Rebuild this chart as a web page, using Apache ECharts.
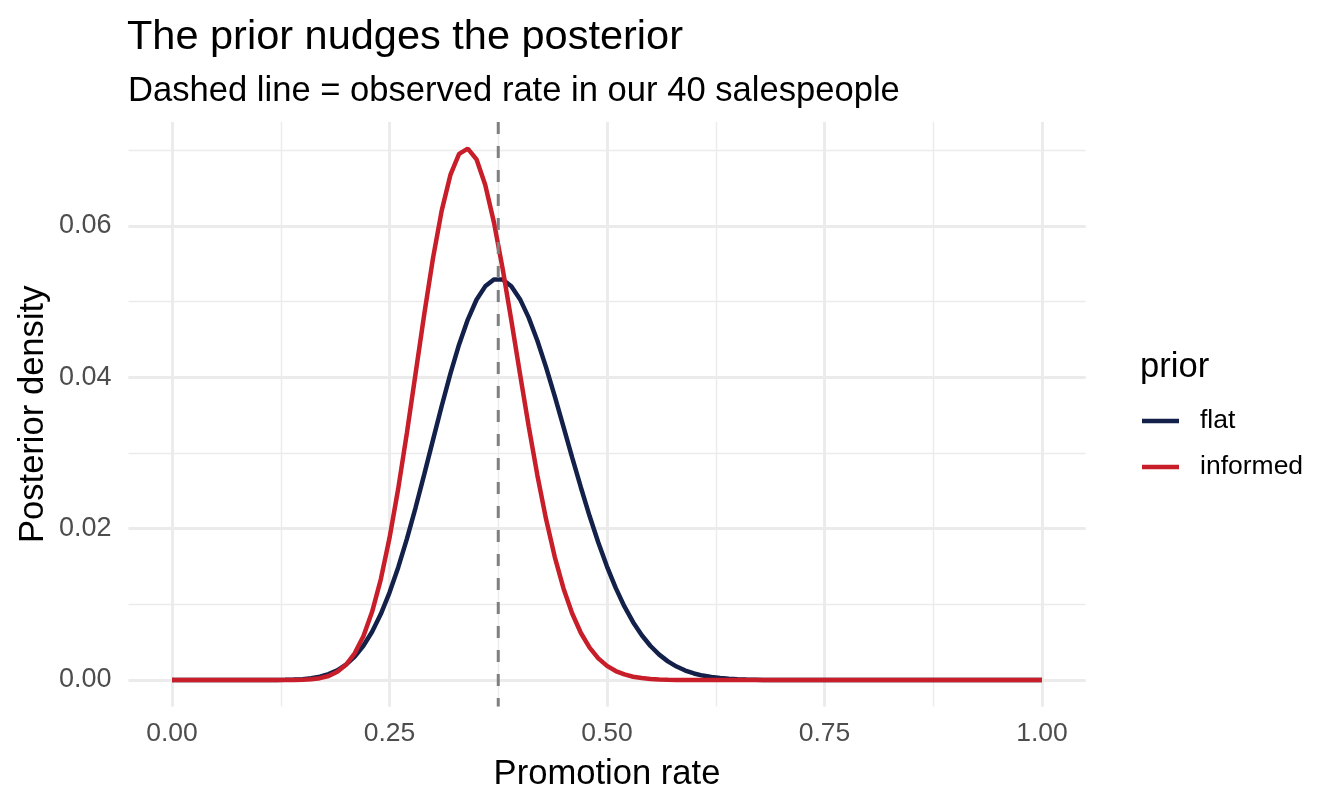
<!DOCTYPE html>
<html>
<head>
<meta charset="utf-8">
<title>The prior nudges the posterior</title>
<script src="https://cdn.jsdelivr.net/npm/echarts@6/dist/echarts.min.js"></script>
<style>
  html, body { margin: 0; padding: 0; background: #fff; }
  #main { width: 1344px; height: 806px; }
</style>
</head>
<body>
<div id="main"></div>
<script>
// grid of promotion rates (0 to 1 by 0.01)
var rate = [
  0.00, 0.01, 0.02, 0.03, 0.04, 0.05, 0.06, 0.07, 0.08, 0.09,
  0.10, 0.11, 0.12, 0.13, 0.14, 0.15, 0.16, 0.17, 0.18, 0.19,
  0.20, 0.21, 0.22, 0.23, 0.24, 0.25, 0.26, 0.27, 0.28, 0.29,
  0.30, 0.31, 0.32, 0.33, 0.34, 0.35, 0.36, 0.37, 0.38, 0.39,
  0.40, 0.41, 0.42, 0.43, 0.44, 0.45, 0.46, 0.47, 0.48, 0.49,
  0.50, 0.51, 0.52, 0.53, 0.54, 0.55, 0.56, 0.57, 0.58, 0.59,
  0.60, 0.61, 0.62, 0.63, 0.64, 0.65, 0.66, 0.67, 0.68, 0.69,
  0.70, 0.71, 0.72, 0.73, 0.74, 0.75, 0.76, 0.77, 0.78, 0.79,
  0.80, 0.81, 0.82, 0.83, 0.84, 0.85, 0.86, 0.87, 0.88, 0.89,
  0.90, 0.91, 0.92, 0.93, 0.94, 0.95, 0.96, 0.97, 0.98, 0.99,
  1.00
]

// posterior density, flat prior
var flat = [
  0, 0, 0, 0, 0, 0, 0, 0, 0, 0,
  0, 0, 0.00001, 0.00003, 0.00006, 0.00012, 0.00024, 0.00045, 0.00078, 0.00129,
  0.00204, 0.00310, 0.00453, 0.00639, 0.00872, 0.01156, 0.01488, 0.01866, 0.02280, 0.02721,
  0.03174, 0.03622, 0.04049, 0.04435, 0.04764, 0.05026, 0.05203, 0.05294, 0.05294, 0.05205,
  0.05034, 0.04790, 0.04484, 0.04132, 0.03748, 0.03346, 0.02940, 0.02545, 0.02167, 0.01818,
  0.01500, 0.01218, 0.00973, 0.00765, 0.00592, 0.00450, 0.00336, 0.00247, 0.00178, 0.00126,
  0.00087, 0.00059, 0.00040, 0.00026, 0.00017, 0.00010, 0.00006, 0.00004, 0.00002, 0.00001,
  0, 0, 0, 0, 0, 0, 0, 0, 0, 0,
  0, 0, 0, 0, 0, 0, 0, 0, 0, 0,
  0, 0, 0, 0, 0, 0, 0, 0, 0, 0,
  0
]

// posterior density, informed prior
var informed = [
  0, 0, 0, 0, 0, 0, 0, 0, 0, 0,
  0, 0, 0, 0, 0.00001, 0.00004, 0.00011, 0.00025, 0.00054, 0.00109,
  0.00202, 0.00353, 0.00579, 0.00901, 0.01331, 0.01877, 0.02528, 0.03266, 0.04052, 0.04840,
  0.05576, 0.06204, 0.06675, 0.06953, 0.07024, 0.06882, 0.06547, 0.06052, 0.05441, 0.04756,
  0.04047, 0.03353, 0.02704, 0.02124, 0.01625, 0.01211, 0.00879, 0.00622, 0.00428, 0.00287,
  0.00187, 0.00119, 0.00074, 0.00044, 0.00026, 0.00015, 0.00008, 0.00004, 0.00002, 0.00001,
  0, 0, 0, 0, 0, 0, 0, 0, 0, 0,
  0, 0, 0, 0, 0, 0, 0, 0, 0, 0,
  0, 0, 0, 0, 0, 0, 0, 0, 0, 0,
  0, 0, 0, 0, 0, 0, 0, 0, 0, 0,
  0
]

var observedRate = 0.375   // 15 of 40 salespeople
var priorNames = ['flat', 'informed']
var xTicks = [0, 0.25, 0.5, 0.75, 1]

var font = '"Liberation Sans", Arial, Helvetica, sans-serif'
var gridColor = '#ebebeb'
var yLo = -0.00351, yHi = 0.073752   // panel limits (ggplot 5% expansion)

function pairs (ys) {
  return rate.map(function (x, i) { return [x, ys[i]] })
}

var hidden = { show: false }
var noBits = {
  axisLine: { show: false },
  axisTick: { show: false },
  axisLabel: { show: false }
}

var option = {
  animation: false,
  backgroundColor: '#ffffff',
  textStyle: { fontFamily: font },
  title: [
    {
      text: 'The prior nudges the posterior',
      left: 122, top: 12,
      textStyle: { fontSize: 41.5, fontWeight: 'normal', color: '#000', fontFamily: font }
    },
    {
      text: 'Dashed line = observed rate in our 40 salespeople',
      left: 123, top: 69,
      textStyle: { fontSize: 34.6, fontWeight: 'normal', color: '#000', fontFamily: font }
    },
    {
      text: 'prior',
      left: 1135, top: 345,
      textStyle: { fontSize: 34.6, fontWeight: 'normal', color: '#000', fontFamily: font }
    }
  ],
  legend: {
    data: priorNames,
    orient: 'vertical',
    left: 1137, top: 402,
    icon: 'rect',
    itemWidth: 37, itemHeight: 4.5,
    itemGap: 18,
    textStyle: { fontSize: 26.5, color: '#000', fontFamily: font, lineHeight: 28, padding: [0, 0, 0, 16] }
  },
  grid: [
    { left: 128.5, top: 122, width: 957, height: 584.6 },     // data panel
    { left: 172, top: 122, width: 870, height: 584.6 },       // vertical grid lines
    { left: 128.5, top: 226, width: 957, height: 454 },       // major horizontal
    { left: 128.5, top: 150.33, width: 957, height: 529.67 }  // minor horizontal
  ],
  xAxis: [
    Object.assign({ type: 'value', gridIndex: 0, min: -0.05, max: 1.05, splitLine: hidden }, noBits),
    {
      type: 'value', gridIndex: 1, min: 0, max: 1, interval: 0.25,
      axisLine: hidden, axisTick: hidden,
      axisLabel: {
        color: '#4d4d4d', fontSize: 26.5, fontFamily: font, margin: 14,
        formatter: function (v) { return xTicks.indexOf(v) >= 0 ? v.toFixed(2) : '' }
      },
      splitLine: { show: true, lineStyle: { color: gridColor, width: 2.8 } },
      name: 'Promotion rate', nameLocation: 'middle', nameGap: 50,
      nameTextStyle: { fontSize: 34.6, color: '#000', fontFamily: font }
    },
    Object.assign({
      type: 'value', gridIndex: 1, position: 'top', min: 0, max: 1, interval: 0.125,
      splitLine: { show: true, lineStyle: { color: gridColor, width: 1.4 } }
    }, noBits),
    { type: 'value', gridIndex: 2, min: 0, max: 1, show: false },
    { type: 'value', gridIndex: 3, min: 0, max: 1, show: false }
  ],
  yAxis: [
    Object.assign({
      type: 'value', gridIndex: 0, min: yLo, max: yHi, splitLine: hidden,
      name: 'Posterior density', nameLocation: 'middle', nameGap: 78,
      nameTextStyle: { fontSize: 34.6, color: '#000', fontFamily: font }
    }, noBits),
    { type: 'value', gridIndex: 1, min: 0, max: 1, show: false },
    {
      type: 'value', gridIndex: 2, min: 0, max: 0.06, interval: 0.02,
      axisLine: hidden, axisTick: hidden,
      axisLabel: {
        color: '#4d4d4d', fontSize: 27, fontFamily: font, margin: 17,
        formatter: function (v) { return v.toFixed(2) }
      },
      splitLine: { show: true, lineStyle: { color: gridColor, width: 2.8 } }
    },
    Object.assign({
      type: 'value', gridIndex: 3, min: 0, max: 0.07, interval: 0.01,
      splitLine: { show: true, lineStyle: { color: gridColor, width: 1.4 } }
    }, noBits)
  ],
  series: [
    {
      name: 'flat', type: 'line', xAxisIndex: 0, yAxisIndex: 0,
      data: pairs(flat),
      symbol: 'none', showSymbol: false,
      color: '#13214a',
      lineStyle: { width: 4.5, color: '#13214a' }
    },
    {
      name: 'informed', type: 'line', xAxisIndex: 0, yAxisIndex: 0,
      data: pairs(informed),
      symbol: 'none', showSymbol: false,
      color: '#c81e2a',
      lineStyle: { width: 4.5, color: '#c81e2a' }
    },
    {
      // observed rate, full panel height
      name: 'observed', type: 'line', xAxisIndex: 0, yAxisIndex: 0,
      data: [[observedRate, yHi], [observedRate, yLo]],
      symbol: 'none', showSymbol: false, silent: true,
      color: '#7f7f7f',
      lineStyle: { width: 3, color: '#7f7f7f', type: [12, 12] }
    }
  ]
}

var myChart = echarts.init(document.getElementById('main'))
myChart.setOption(option)
</script>
</body>
</html>
